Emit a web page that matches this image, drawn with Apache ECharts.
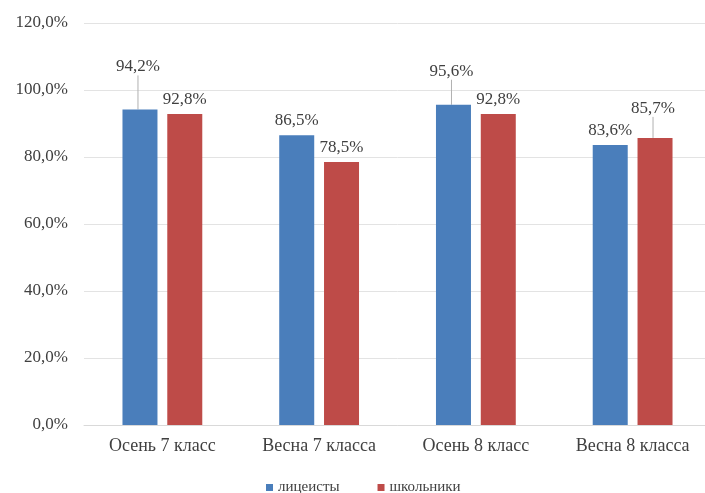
<!DOCTYPE html>
<html>
<head>
<meta charset="utf-8">
<script src="https://cdn.jsdelivr.net/npm/echarts@6/dist/echarts.min.js"></script>
<style>
  html, body { margin: 0; padding: 0; background: #ffffff; overflow: hidden; }
  #chart { width: 711px; height: 493px; }
</style>
</head>
<body>
<div id="chart"></div>
<script>
// Categories and series values (percent)
const categories = ['Осень 7 класс', 'Весна 7 класса', 'Осень 8 класс', 'Весна 8 класса'];
const seriesNames = ['лицеисты', 'школьники'];
const lyceum = [94.2, 86.5, 95.6, 83.6];
const school = [92.8, 78.5, 92.8, 85.7];
const yTicks = [0, 20, 40, 60, 80, 100, 120];

// Labels lifted above the bar with a guide line: [seriesIndex, dataIndex, dx, dy]
const liftedLabels = [[0, 0, -2, -28], [0, 2, -2, -19], [1, 3, -2, -15]];

const fmt = v => v.toFixed(1).replace('.', ',') + '%';
const serif = '"Liberation Serif", "Times New Roman", serif';

const chart = echarts.init(document.getElementById('chart'), null, { renderer: 'canvas' });

const findLift = (si, di) => liftedLabels.find(l => l[0] === si && l[1] === di);

chart.setOption({
  animation: false,
  backgroundColor: '#ffffff',
  color: ['#4A7EBB', '#BE4B48'],
  grid: { left: 84, top: 23, right: 0, bottom: 68, containLabel: false },
  legend: {
    data: seriesNames,
    left: 261,
    top: 475,
    itemWidth: 7,
    itemHeight: 7,
    itemGap: 38,
    icon: 'rect',
    textStyle: { fontFamily: serif, fontSize: 15, color: '#404040' }
  },
  xAxis: {
    type: 'category',
    data: categories,
    axisLine: { show: true, lineStyle: { color: '#d9d9d9', width: 1 } },
    axisTick: { show: false },
    axisLabel: { margin: 12, fontFamily: serif, fontSize: 18, color: '#404040' }
  },
  yAxis: {
    type: 'value',
    min: yTicks[0],
    max: yTicks[yTicks.length - 1],
    interval: yTicks[1] - yTicks[0],
    axisLine: { show: false },
    axisTick: { show: false },
    splitLine: { lineStyle: { color: '#e3e3e3', width: 1 } },
    axisLabel: { margin: 16, fontFamily: serif, fontSize: 17, color: '#404040', formatter: v => fmt(v) }
  },
  series: [lyceum, school].map((vals, si) => ({
    name: seriesNames[si],
    type: 'bar',
    data: vals.map((v, di) => ({
      value: v,
      labelLine: { show: !!findLift(si, di) }
    })),
    barWidth: 35,
    barGap: '28%',
    label: {
      show: true,
      position: 'top',
      distance: 6,
      color: '#404040',
      fontFamily: serif,
      fontSize: 17,
      formatter: p => fmt(p.value)
    },
    labelLine: { lineStyle: { color: '#b0b0b0', width: 1 } },
    labelLayout: p => {
      const hit = findLift(si, p.dataIndex);
      return hit ? { dx: hit[2], dy: hit[3] } : {};
    }
  }))
});
</script>
</body>
</html>
